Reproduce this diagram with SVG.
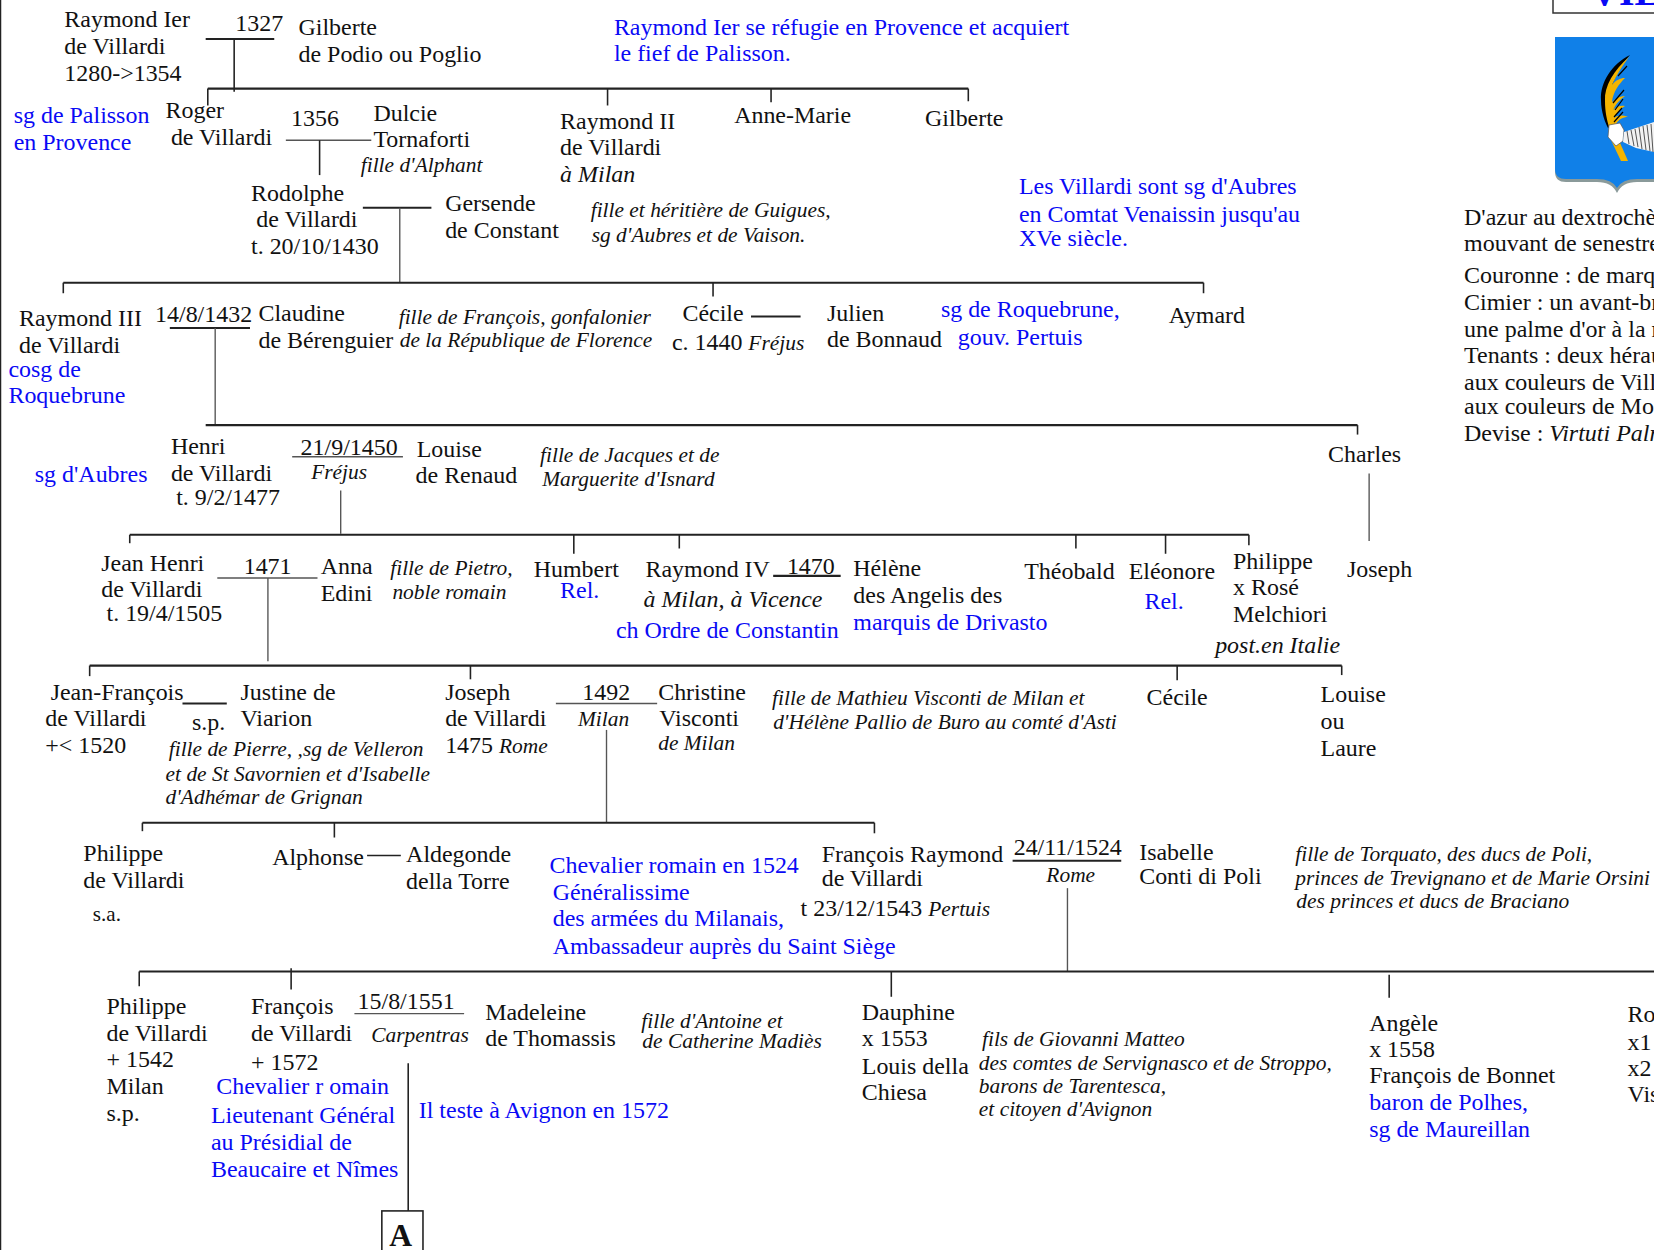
<svg xmlns="http://www.w3.org/2000/svg" width="1654" height="1250" viewBox="0 0 1654 1250">
<style>
text{font-family:"Liberation Serif","Times New Roman",serif;font-size:22.7px;fill:#111}
.b{fill:#0a0af5}
.i{font-style:italic;font-size:20.3px}
#connectors line{stroke:#222;stroke-width:1.5;fill:none}
#connectors line.th{stroke-width:2}
#connectors line.g{stroke:#555;stroke-width:1.3}
.f{font-size:24px}
</style>
<rect width="1654" height="1250" fill="#fff"/>
<line x1="0.5" y1="0" x2="0.5" y2="1250" stroke="#222" stroke-width="1.5"/>
<g id="title"><path d="M1553 0V13H1654" fill="none" stroke="#333" stroke-width="1.5"/><text x="1590" y="5" class="b" style="font-weight:bold;font-size:40px">VIL</text></g>
<g id="crest">
<path d="M1555 37H1654V182H1637Q1622 182 1617 193Q1612 182 1597 182H1566Q1555 182 1555 172Z" fill="#8a9a9a"/>
<path d="M1555 37H1654V179H1637Q1622 179 1617 188Q1612 179 1597 179H1566Q1555 179 1555 169Z" fill="#1080e8"/>
<path d="M1630 55C1612 64 1600 82 1601 100C1601 112 1605 122 1608 128L1610 127C1606 110 1606 82 1630 55Z" fill="#000"/>
<path d="M1629 57C1614 70 1604 86 1605 101C1605 112 1607 120 1609 127L1615 125C1619 119 1623 117 1628 117C1622 115 1618 115 1614 118C1617 112 1621 108 1625 106C1620 105 1616 107 1613 110C1617 102 1621 99 1625 96C1620 96 1616 98 1612 102C1613 92 1619 84 1625 78C1620 78 1616 80 1612 85C1616 76 1622 66 1629 57Z" fill="#f4b400"/>
<path d="M1627 66L1618 76M1624 90L1613 103M1623 99L1615 110M1622 108L1614 117M1623 112L1614 122" stroke="#000" stroke-width="1.2" fill="none"/>
<path d="M1610 138L1621 161H1628L1617 136Z" fill="#f4b400"/>
<path d="M1609 125L1620 123L1624 130L1623 141L1616 146L1608 137Z" fill="#fff" stroke="#555" stroke-width=".7"/>
<path d="M1624 132L1654 122V152L1636 148L1623 142Z" fill="#f2f2f2"/>
<path d="M1627 131L1629 144M1631 130L1634 146M1635 129L1638 147M1639 127L1642 149M1643 126L1646 150M1647 125L1650 151M1651 124L1653 152" stroke="#555" stroke-width="1" fill="none"/>
</g>
<g id="blason">
<text class="f" x="1464" y="225">D'azur au dextrochè</text>
<text class="f" x="1464" y="251">mouvant de senestre</text>
<text class="f" x="1464" y="283">Couronne : de marq</text>
<text class="f" x="1464" y="310">Cimier : un avant-br</text>
<text class="f" x="1464" y="337">une palme d'or à la m</text>
<text class="f" x="1464" y="363">Tenants : deux hérau</text>
<text class="f" x="1464" y="390">aux couleurs de Vill</text>
<text class="f" x="1464" y="414">aux couleurs de Mo</text>
<text class="f" x="1464" y="441">Devise : <tspan font-style="italic">Virtuti Palm</tspan></text>
</g>
<g transform="scale(1.0548)">
<g id="connectors">
<line class="th" x1="195" y1="37" x2="260" y2="37"/><line x1="222" y1="37" x2="222" y2="87"/>
<line class="th" x1="197" y1="84" x2="918" y2="84"/><line x1="197" y1="84" x2="197" y2="100"/><line x1="576" y1="84" x2="576" y2="100"/><line x1="731" y1="84" x2="731" y2="97"/><line x1="918" y1="84" x2="918" y2="96"/>
<line class="g" x1="271" y1="133" x2="352" y2="133"/><line x1="303" y1="133" x2="303" y2="166"/>
<line class="th" x1="344" y1="197" x2="409" y2="197"/><line class="g" x1="379" y1="197" x2="379" y2="268"/>
<line class="th" x1="60" y1="268" x2="1141" y2="268"/><line x1="60" y1="268" x2="60" y2="278"/><line x1="676" y1="268" x2="676" y2="281"/><line x1="1141" y1="268" x2="1141" y2="278"/>
<line class="th" x1="712" y1="300" x2="759" y2="300"/>
<line class="th" x1="161" y1="311" x2="237" y2="311"/><line class="g" x1="204" y1="311" x2="204" y2="403"/>
<line class="th" x1="195" y1="403" x2="1287" y2="403"/><line x1="1287" y1="403" x2="1287" y2="412"/>
<line class="g" x1="277" y1="433" x2="382" y2="433"/><line class="g" x1="323" y1="465" x2="323" y2="506"/>
<line class="g" x1="1298" y1="449" x2="1298" y2="513"/>
<line class="th" x1="123" y1="507" x2="1184" y2="507"/><line x1="123" y1="507" x2="123" y2="515"/><line x1="544" y1="507" x2="544" y2="525"/><line x1="644" y1="507" x2="644" y2="520"/><line x1="1020" y1="507" x2="1020" y2="520"/><line x1="1105" y1="507" x2="1105" y2="525"/><line x1="1184" y1="507" x2="1184" y2="517"/>
<line class="g" x1="206" y1="548" x2="301" y2="548"/><line class="g" x1="254" y1="548" x2="254" y2="627"/>
<line class="th" x1="733" y1="546" x2="797" y2="546"/>
<line class="th" x1="85" y1="631" x2="1272" y2="631"/><line x1="85" y1="631" x2="85" y2="641"/><line x1="446" y1="631" x2="446" y2="644"/><line x1="1116" y1="631" x2="1116" y2="645"/><line x1="1272" y1="631" x2="1272" y2="640"/>
<line class="th" x1="173" y1="667" x2="215" y2="667"/>
<line class="g" x1="527" y1="667" x2="623" y2="667"/><line class="g" x1="575" y1="692" x2="575" y2="780"/>
<line class="th" x1="135" y1="780" x2="829" y2="780"/><line x1="135" y1="780" x2="135" y2="788"/><line x1="317" y1="780" x2="317" y2="794"/><line x1="829" y1="780" x2="829" y2="790"/>
<line x1="348" y1="811" x2="380" y2="811"/>
<line class="th" x1="960" y1="816" x2="1063" y2="816"/><line class="g" x1="1012" y1="842" x2="1012" y2="921"/>
<line class="th" x1="132" y1="921" x2="1570" y2="921"/><line x1="132" y1="921" x2="132" y2="935"/><line x1="276" y1="918" x2="276" y2="938"/><line x1="845" y1="921" x2="845" y2="945"/><line x1="1317" y1="924" x2="1317" y2="946"/>
<line class="g" x1="336" y1="961" x2="440" y2="961"/><line x1="387" y1="1008" x2="387" y2="1148"/>
</g>
<g id="n-raymond1"><text x="61" y="26">Raymond Ier</text><text x="61" y="51">de Villardi</text><text x="61" y="77">1280-&gt;1354</text></g>
<g id="m-1327"><text x="223" y="29">1327</text></g>
<g id="n-gilberte1"><text x="283" y="33">Gilberte</text><text x="283" y="59">de Podio ou Poglio</text></g>
<g id="note-palisson"><text class="b" x="582" y="33">Raymond Ier se réfugie en Provence et acquiert</text><text class="b" x="582" y="58">le fief de Palisson.</text></g>
<g id="note-sg"><text class="b" x="13" y="117">sg de Palisson</text><text class="b" x="13" y="142">en Provence</text></g>
<g id="n-roger"><text x="157" y="112">Roger</text><text x="162" y="137">de Villardi</text></g>
<g id="m-1356"><text x="276" y="119">1356</text></g>
<g id="n-dulcie"><text x="354" y="115">Dulcie</text><text x="354" y="139">Tornaforti</text><text class="i" x="342" y="163">fille d'Alphant</text></g>
<g id="n-raymond2"><text x="531" y="122">Raymond II</text><text x="531" y="147">de Villardi</text><text x="531" y="173"><tspan font-style="italic">à Milan</tspan></text></g>
<g id="n-annemarie"><text x="696" y="117">Anne-Marie</text></g>
<g id="n-gilberte2"><text x="877" y="119">Gilberte</text></g>
<g id="n-rodolphe"><text x="238" y="191">Rodolphe</text><text x="243" y="215">de Villardi</text><text x="238" y="241">t. 20/10/1430</text></g>
<g id="n-gersende"><text x="422" y="200">Gersende</text><text x="422" y="226">de Constant</text></g>
<g id="note-guigues"><text class="i" x="560" y="206">fille et héritière de Guigues,</text><text class="i" x="561" y="229">sg d'Aubres et de Vaison.</text></g>
<g id="note-aubres"><text class="b" x="966" y="184">Les Villardi sont sg d'Aubres</text><text class="b" x="966" y="210">en Comtat Venaissin jusqu'au</text><text class="b" x="966" y="233">XVe siècle.</text></g>
<g id="n-raymond3"><text x="18" y="309">Raymond III</text><text x="18" y="335">de Villardi</text><text class="b" x="8" y="357">cosg de</text><text class="b" x="8" y="382">Roquebrune</text></g>
<g id="m-1432"><text x="147" y="305">14/8/1432</text></g>
<g id="n-claudine"><text x="245" y="304">Claudine</text><text x="245" y="330">de Bérenguier</text></g>
<g id="note-francois"><text class="i" x="378" y="307">fille de François, gonfalonier</text><text class="i" x="379" y="329">de la République de Florence</text></g>
<g id="n-cecile1"><text x="647" y="304">Cécile</text><text x="637" y="332">c. 1440 <tspan class="i">Fréjus</tspan></text></g>
<g id="n-julien"><text x="784" y="304">Julien</text><text x="784" y="329">de Bonnaud</text></g>
<g id="note-roque"><text class="b" x="892" y="301">sg de Roquebrune,</text><text class="b" x="908" y="327">gouv. Pertuis</text></g>
<g id="n-aymard"><text x="1108" y="306">Aymard</text></g>
<g id="note-sgaubres"><text class="b" x="33" y="457">sg d'Aubres</text></g>
<g id="n-henri"><text x="162" y="430">Henri</text><text x="162" y="456">de Villardi</text><text x="167" y="479">t. 9/2/1477</text></g>
<g id="m-1450"><text x="285" y="431">21/9/1450</text><text class="i" x="295" y="454">Fréjus</text></g>
<g id="n-louise1"><text x="395" y="433">Louise</text><text x="394" y="458">de Renaud</text></g>
<g id="note-isnard"><text class="i" x="512" y="438">fille de Jacques et de</text><text class="i" x="514" y="461">Marguerite d'Isnard</text></g>
<g id="n-charles"><text x="1259" y="438">Charles</text></g>
<g id="n-joseph1"><text x="1277" y="547">Joseph</text></g>
<g id="n-jeanhenri"><text x="96" y="541">Jean Henri</text><text x="96" y="566">de Villardi</text><text x="101" y="589">t. 19/4/1505</text></g>
<g id="m-1471"><text x="231" y="544">1471</text></g>
<g id="n-anna"><text x="304" y="544">Anna</text><text x="304" y="570">Edini</text></g>
<g id="note-pietro"><text class="i" x="370" y="545">fille de Pietro,</text><text class="i" x="372" y="568">noble romain</text></g>
<g id="n-humbert"><text x="506" y="547">Humbert</text><text class="b" x="531" y="567">Rel.</text></g>
<g id="n-raymond4"><text x="612" y="547">Raymond IV</text><text x="610" y="575" style="font-style:italic">à Milan, à Vicence</text><text class="b" x="584" y="605">ch Ordre de Constantin</text></g>
<g id="m-1470"><text x="746" y="544">1470</text></g>
<g id="n-helene"><text x="809" y="546">Hélène</text><text x="809" y="572">des Angelis des</text><text class="b" x="809" y="597">marquis de Drivasto</text></g>
<g id="n-theobald"><text x="971" y="549">Théobald</text></g>
<g id="n-eleonore"><text x="1070" y="549">Eléonore</text><text class="b" x="1085" y="577">Rel.</text></g>
<g id="n-philippe1"><text x="1169" y="539">Philippe</text><text x="1169" y="564">x Rosé</text><text x="1169" y="590">Melchiori</text><text x="1152" y="619" style="font-style:italic">post.en Italie</text></g>
<g id="n-jeanfrancois"><text x="48" y="664">Jean-François</text><text x="43" y="688">de Villardi</text><text x="43" y="714">+&lt; 1520</text></g>
<g id="m-sp"><text x="182" y="692">s.p.</text></g>
<g id="n-justine"><text x="228" y="664">Justine de</text><text x="228" y="688">Viarion</text><text class="i" x="160" y="717">fille de Pierre, ,sg de Velleron</text><text class="i" x="157" y="740">et de St Savornien et d'Isabelle</text><text class="i" x="157" y="762">d'Adhémar de Grignan</text></g>
<g id="n-joseph2"><text x="422" y="664">Joseph</text><text x="422" y="688">de Villardi</text><text x="422" y="714">1475 <tspan class="i">Rome</tspan></text></g>
<g id="m-1492"><text x="552" y="664">1492</text><text class="i" x="548" y="688">Milan</text></g>
<g id="n-christine"><text x="624" y="664">Christine</text><text x="625" y="688">Visconti</text><text class="i" x="624" y="711">de Milan</text></g>
<g id="note-mathieu"><text class="i" x="732" y="668">fille de Mathieu Visconti de Milan et</text><text class="i" x="733" y="691">d'Hélène Pallio de Buro au comté d'Asti</text></g>
<g id="n-cecile2"><text x="1087" y="668">Cécile</text></g>
<g id="n-louise2"><text x="1252" y="666">Louise</text><text x="1252" y="691">ou</text><text x="1252" y="717">Laure</text></g>
<g id="n-philippe2"><text x="79" y="816">Philippe</text><text x="79" y="842">de Villardi</text><text x="88" y="873" style="font-size:20px">s.a.</text></g>
<g id="n-alphonse"><text x="258" y="820">Alphonse</text></g>
<g id="n-aldegonde"><text x="385" y="817">Aldegonde</text><text x="385" y="843">della Torre</text></g>
<g id="note-chevalier"><text class="b" x="521" y="828">Chevalier romain en 1524</text><text class="b" x="524" y="853">Généralissime</text><text class="b" x="524" y="878">des armées du Milanais,</text><text class="b" x="524" y="904">Ambassadeur auprès du Saint Siège</text></g>
<g id="n-francoisr"><text x="779" y="817">François Raymond</text><text x="779" y="840">de Villardi</text><text x="759" y="868">t 23/12/1543 <tspan class="i">Pertuis</tspan></text></g>
<g id="m-1524"><text x="961" y="811">24/11/1524</text><text class="i" x="992" y="836">Rome</text></g>
<g id="n-isabelle"><text x="1080" y="815">Isabelle</text><text x="1080" y="838">Conti di Poli</text></g>
<g id="note-torquato"><text class="i" x="1228" y="816">fille de Torquato, des ducs de Poli,</text><text class="i" x="1228" y="839">princes de Trevignano et de Marie Orsini</text><text class="i" x="1229" y="861">des princes et ducs de Braciano</text></g>
<g id="n-philippe3"><text x="101" y="961">Philippe</text><text x="101" y="987">de Villardi</text><text x="101" y="1012">+ 1542</text><text x="101" y="1037">Milan</text><text x="101" y="1063">s.p.</text></g>
<g id="n-francois"><text x="238" y="961">François</text><text x="238" y="987">de Villardi</text><text x="238" y="1014">+ 1572</text><text class="b" x="205" y="1037">Chevalier r omain</text><text class="b" x="200" y="1065">Lieutenant Général</text><text class="b" x="200" y="1090">au Présidial de</text><text class="b" x="200" y="1116">Beaucaire et Nîmes</text></g>
<g id="m-1551"><text x="339" y="957">15/8/1551</text><text class="i" x="352" y="988">Carpentras</text></g>
<g id="note-teste"><text class="b" x="397" y="1060">Il teste à Avignon en 1572</text></g>
<g id="n-madeleine"><text x="460" y="967">Madeleine</text><text x="460" y="992">de Thomassis</text></g>
<g id="note-antoine"><text class="i" x="608" y="975">fille d'Antoine et</text><text class="i" x="609" y="994">de Catherine Madiès</text></g>
<g id="n-dauphine"><text x="817" y="967">Dauphine</text><text x="817" y="992">x 1553</text><text x="817" y="1018">Louis della</text><text x="817" y="1043">Chiesa</text></g>
<g id="note-giovanni"><text class="i" x="931" y="992">fils de Giovanni Matteo</text><text class="i" x="928" y="1014">des comtes de Servignasco et de Stroppo,</text><text class="i" x="928" y="1036">barons de Tarentesca,</text><text class="i" x="928" y="1058">et citoyen d'Avignon</text></g>
<g id="n-angele"><text x="1298" y="977">Angèle</text><text x="1298" y="1002">x 1558</text><text x="1298" y="1027">François de Bonnet</text><text class="b" x="1298" y="1052">baron de Polhes,</text><text class="b" x="1298" y="1078">sg de Maureillan</text></g>
<g id="n-ro"><text x="1543" y="969">Ro</text><text x="1543" y="995">x1</text><text x="1543" y="1020">x2</text><text x="1543" y="1045">Vis</text></g>
<g id="box-a"><rect x="362" y="1148" width="39" height="50" fill="#fff" stroke="#222" stroke-width="1.5"/><text x="369" y="1181" style="font-weight:bold;font-size:30px">A</text></g>
</g>
</svg>
